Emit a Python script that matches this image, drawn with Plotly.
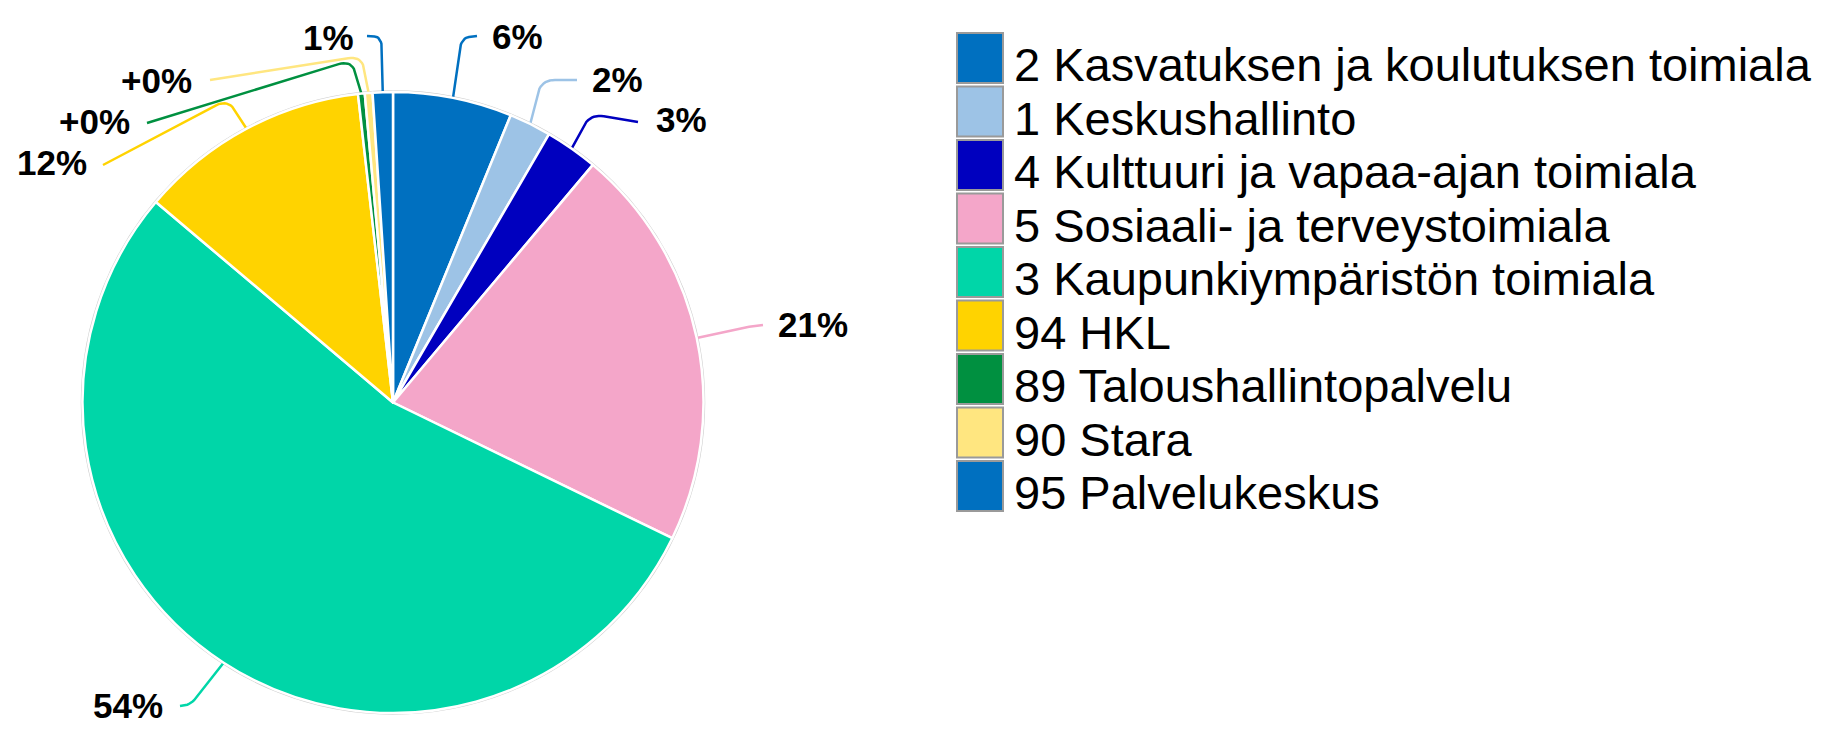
import math
import plotly.graph_objects as go

# ---------------- data ----------------
categories = [
    "2 Kasvatuksen ja koulutuksen toimiala",
    "1 Keskushallinto",
    "4 Kulttuuri ja vapaa-ajan toimiala",
    "5 Sosiaali- ja terveystoimiala",
    "3 Kaupunkiympäristön toimiala",
    "94 HKL",
    "89 Taloushallintopalvelu",
    "90 Stara",
    "95 Palvelukeskus",
]
values = [6.19, 2.19, 2.75, 21.07, 53.97, 12.03, 0.35, 0.40, 1.05]
colors = ["#0070C0", "#9DC3E6", "#0000BF", "#F4A6C9", "#00D6A8",
          "#FFD300", "#009040", "#FFE680", "#0070C0"]

# ---------------- layout constants (pixels) ----------------
W, H = 1843, 735
CX, CY, R = 393.0, 402.5, 310.5
FONT = "Liberation Sans, Arial, sans-serif"

label_pos = [(517, 36), (617, 79), (681, 119), (813, 324), (128, 705),
             (52, 162), (94, 121), (156, 80), (328, 37)]
corner = [(461, 38), (541, 80), (590, 114), (740, 328), (192, 704),
          (228, 99), (352, 60), (362, 56), (382, 37)]
line_end = [(477, 36), (577, 80), (638, 122), (763, 325), (180, 706),
            (103, 165), (147, 123), (210, 80), (367, 36)]

total = sum(values)

def pct_text(v):
    p = round(v / total * 100)
    return "+0%" if p == 0 else f"{p}%"

fig = go.Figure()

# leader lines (drawn under the pie)
cum = 0.0
for i, v in enumerate(values):
    mid = (cum + v / 2) / total * 2 * math.pi
    cum += v
    sx, sy = CX + R * math.sin(mid), CY - R * math.cos(mid)
    cx, cy = corner[i]
    ex, ey = line_end[i]
    def toward(px, py, d=14):
        L = math.hypot(px - cx, py - cy)
        k = min(0.5, d / L) if L > 0 else 0
        return cx + (px - cx) * k, cy + (py - cy) * k
    ax_, ay_ = toward(sx, sy)
    bx_, by_ = toward(ex, ey)
    xs, ys = [sx], [sy]
    n = 10
    for j in range(n + 1):
        t = j / n
        xs.append((1 - t) ** 2 * ax_ + 2 * (1 - t) * t * cx + t ** 2 * bx_)
        ys.append((1 - t) ** 2 * ay_ + 2 * (1 - t) * t * cy + t ** 2 * by_)
    xs.append(ex)
    ys.append(ey)
    fig.add_trace(go.Scatter(x=xs, y=ys, mode="lines",
                             line=dict(color=colors[i], width=2.5),
                             hoverinfo="skip", showlegend=False))

fig.add_trace(go.Pie(
    labels=categories, values=values, sort=False, direction="clockwise",
    rotation=0, textinfo="none", showlegend=False,
    marker=dict(colors=colors, line=dict(color="white", width=2.5)),
    domain=dict(x=[(CX - R) / W, (CX + R) / W],
                y=[(H - CY - R) / H, (H - CY + R) / H]),
))

annotations = []
shapes = []

# percentage labels
for i, v in enumerate(values):
    lx, ly = label_pos[i]
    annotations.append(dict(x=lx, y=ly, xref="x", yref="y", text=pct_text(v),
                            showarrow=False, xanchor="center", yanchor="middle",
                            font=dict(family=FONT, size=35, color="black",
                                      weight="bold")))

# outer faint ring
shapes.append(dict(type="circle", xref="x", yref="y", x0=CX - R - 1, x1=CX + R + 1,
                   y0=CY - R - 1, y1=CY + R + 1, line=dict(color="#cfcfcf", width=1.5),
                   layer="below"))

# manual legend
LEG_X0, LEG_X1 = 957, 1003
LEG_TOP, LEG_STEP, LEG_H = 33, 53.5, 50
for i, name in enumerate(categories):
    top = LEG_TOP + i * LEG_STEP
    shapes.append(dict(type="rect", xref="x", yref="y", x0=LEG_X0, x1=LEG_X1,
                       y0=top, y1=top + LEG_H, fillcolor=colors[i],
                       line=dict(color="#9a9a9a", width=2), layer="above"))
    annotations.append(dict(x=1012, y=top + 31.5, xref="x", yref="y", text=name,
                            showarrow=False, xanchor="left", yanchor="middle",
                            font=dict(family=FONT, size=47, color="black")))

fig.update_layout(
    width=W, height=H,
    margin=dict(l=0, r=0, t=0, b=0),
    paper_bgcolor="white", plot_bgcolor="rgba(0,0,0,0)",
    xaxis=dict(range=[0, W], visible=False, fixedrange=True, domain=[0, 1]),
    yaxis=dict(range=[H, 0], visible=False, fixedrange=True, domain=[0, 1]),
    annotations=annotations, shapes=shapes,
    showlegend=False,
)

fig.write_html("out.html",
               config={"displayModeBar": False},
               post_script="document.body.style.margin='0';"
                           "document.body.style.overflow='hidden';")
